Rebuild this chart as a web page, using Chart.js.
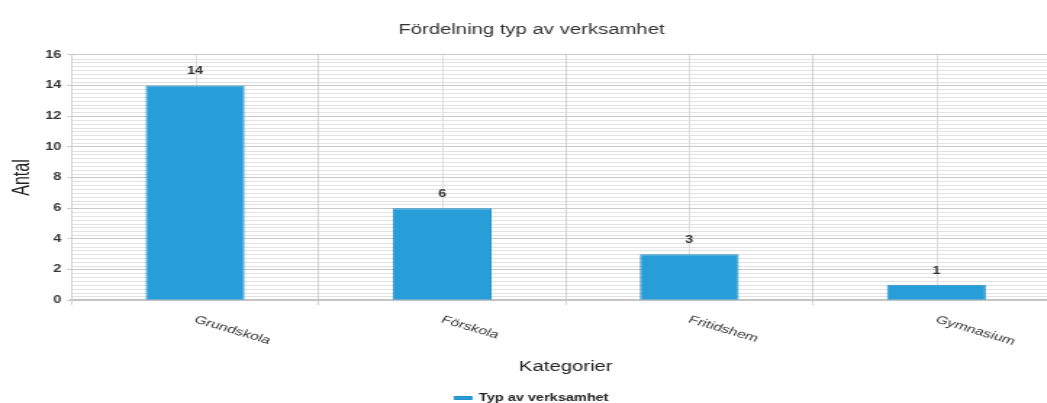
<!DOCTYPE html>
<html><head><meta charset="utf-8">
<script src="https://cdn.jsdelivr.net/npm/chart.js@4.4.1/dist/chart.umd.min.js"></script>
<style>
html,body{margin:0;padding:0;background:#fff;overflow:hidden;width:1047px;height:403px;}
#wrap{position:absolute;left:0;top:0;transform:scaleX(1.45);transform-origin:0 0;}
canvas{display:block;}
</style></head><body>
<div id="wrap"><canvas id="c" width="734" height="413"></canvas></div>
<script>
const categories = ['Grundskola', 'Förskola', 'Fritidshem', 'Gymnasium'];
const seriesName = 'Typ av verksamhet';
const values = [14, 6, 3, 1];
const yTicks = [0, 2, 4, 6, 8, 10, 12, 14, 16];
const minorStep = 0.25;
const chartTitle = 'Fördelning typ av verksamhet';
const xTitle = 'Kategorier';
const yTitle = 'Antal';

const FONT = '"Liberation Sans", Arial, sans-serif';

const decor = {
  id: 'decor',
  beforeDraw(chart) {
    const {ctx, chartArea: a, scales: {x, y}} = chart;
    ctx.save();
    ctx.lineWidth = 1;
    ctx.strokeStyle = '#e2e2e2';
    const top = yTicks[yTicks.length - 1];
    for (let k = 1; k * minorStep < top; k++) {
      const v = k * minorStep;
      if (yTicks.some(t => Math.abs(t - v) < 1e-9)) continue;
      const py = Math.round(y.getPixelForValue(v)) + 0.5;
      ctx.beginPath(); ctx.moveTo(a.left, py); ctx.lineTo(a.right, py); ctx.stroke();
    }
    ctx.strokeStyle = '#dedede';
    categories.forEach((c, i) => {
      const px = Math.round(x.getPixelForValue(i)) + 0.5;
      ctx.beginPath(); ctx.moveTo(px, a.top); ctx.lineTo(px, a.bottom); ctx.stroke();
    });
    ctx.restore();
  },
  afterDatasetsDraw(chart) {
    const {ctx, chartArea: a, scales: {x}} = chart;
    const meta = chart.getDatasetMeta(0);
    ctx.save();
    ctx.font = 'bold 10px ' + FONT;
    ctx.fillStyle = '#333';
    ctx.textAlign = 'center';
    ctx.textBaseline = 'middle';
    meta.data.forEach((bar, i) => ctx.fillText(String(values[i]), bar.x, bar.y - 14));
    ctx.font = '11px ' + FONT;
    ctx.fillStyle = '#333';
    ctx.textAlign = 'left';
    ctx.textBaseline = 'top';
    categories.forEach((c, i) => {
      const px = x.getPixelForValue(i);
      ctx.save();
      ctx.translate(px + 2, a.bottom + 14);
      ctx.rotate(23 * Math.PI / 180);
      ctx.fillText(c, 0, 0);
      ctx.restore();
    });
    ctx.restore();
  }
};

new Chart(document.getElementById('c'), {
  type: 'bar',
  data: {
    labels: categories,
    datasets: [{
      label: seriesName,
      data: values,
      backgroundColor: '#289ed8',
      borderColor: '#2290c9',
      borderWidth: 1,
      barPercentage: 0.4,
      categoryPercentage: 1.0
    }]
  },
  options: {
    responsive: false,
    animation: false,
    devicePixelRatio: 1,
    layout: {padding: {left: 2, right: 3, top: 12, bottom: 0}},
    plugins: {
      title: {display: true, text: chartTitle, color: '#333',
        font: {family: FONT, size: 14, weight: 'normal'}, padding: {top: 10, bottom: 16}},
      legend: {position: 'bottom',
        labels: {boxWidth: 12, boxHeight: 3, color: '#222',
          font: {family: FONT, size: 10, weight: 'bold'}, padding: 10}},
      tooltip: {enabled: false}
    },
    scales: {
      x: {
        grid: {color: '#d2d2d2', lineWidth: 1, tickLength: 5, offset: true},
        border: {color: '#c4c4c4', width: 2},
        ticks: {display: false},
        title: {display: true, text: xTitle, color: '#222',
          font: {family: FONT, size: 14}, padding: {top: 54, bottom: 7}}
      },
      y: {
        min: 0, max: 16,
        afterBuildTicks: s => { s.ticks = yTicks.map(v => ({value: v})); },
        grid: {color: '#c9c9c9', tickLength: 3},
        border: {color: '#d2d2d2'},
        ticks: {color: '#333', font: {family: FONT, size: 10, weight: 'bold'}, padding: 4},
        title: {display: true, text: yTitle, color: '#222',
          font: {family: FONT, size: 16}, padding: {top: 4, bottom: 2}}
      }
    }
  },
  plugins: [decor]
});
</script>
</body></html>
